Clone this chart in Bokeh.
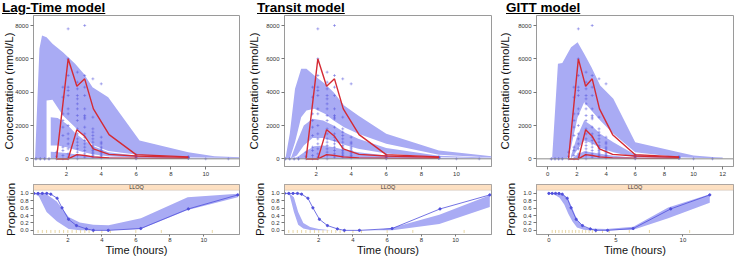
import math
from bokeh.plotting import figure
from bokeh.layouts import row, column
from bokeh.models import (Div, FixedTicker, PrintfTickFormatter, BoxAnnotation,
                          Label, Span, Range1d)
from bokeh.embed import file_html
from bokeh.resources import INLINE

# ---------------- data ----------------
model_titles = ["Lag-Time model", "Transit model", "GITT model"]

# observed concentrations (nmol/L) by nominal time (h)
obs_times = [0.25, 0.5, 0.75, 1.0, 1.43, 1.8, 2.1, 2.63, 3.05, 3.52, 4.0, 6.0, 9.0, 10.0, 11.3]
obs_conc = [
    [0, 0],
    [0, 0],
    [0, 0],
    [0, 0],
    [0, 150, 400],
    [0, 200, 500, 700, 1400, 1900, 2300, 2700, 3700, 4300],
    [0, 100, 300, 600, 900, 1200, 1500, 2000, 2700, 3000, 3800, 4100, 4300, 5000, 6000, 7800],
    [0, 200, 400, 600, 800, 1000, 1200, 1500, 1800, 2300, 2600, 3000, 3300, 3600, 3800, 4200, 4600, 5200],
    [100, 300, 500, 700, 900, 1100, 1300, 1500, 1900, 2400, 2500, 2600, 3000, 3800, 4300, 5000, 8000],
    [100, 200, 300, 400, 500, 600, 700, 800, 1000, 1200, 1400, 1600, 1800, 2500, 4800],
    [50, 100, 200, 300, 400, 500, 600, 700, 900, 1000, 1300, 4500],
    [0, 30, 60, 100, 150, 200, 250],
    [20, 40, 60, 80, 100, 120],
    [0],
    [0],
]

# observed percentiles (red lines)
obs_bin_t = [1.43, 2.1, 2.6, 3.05, 3.55, 4.45, 6.0, 9.0]
obs_p95 = [0, 6000, 4350, 4800, 3000, 1450, 250, 120]
obs_p50 = [0, 0, 1750, 1350, 600, 270, 170, 90]
obs_p05 = [0, 0, 250, 200, 120, 60, 40, 30]

# simulated confidence bands: Lag-Time model
lag_a_t = [0.2, 0.45, 0.6, 0.86, 0.86, 1.2, 1.8, 2.5, 3.0, 3.5, 4.4, 6.2, 9.0, 10.5, 11.95]
lag_a_hi = [0, 6600, 7400, 7300, 7300, 6900, 6400, 5700, 5100, 4300, 3700, 1100, 400, 150, 100]
lag_a_lo = [0, 0, 0, 0, 3500, 3550, 2600, 1900, 1350, 850, 470, 230, 90, 60, 50]
lag_b_t = [1.1, 1.5, 2.0, 2.5, 3.0, 3.5, 4.4, 6.2, 9.0, 11.95]
lag_b_hi = [2500, 2450, 2100, 1550, 1150, 780, 390, 170, 70, 40]
lag_b_lo = [800, 800, 700, 550, 400, 270, 150, 70, 30, 20]
lag_c_t = [1.1, 1.5, 2.0, 2.5, 3.0, 3.5, 4.4, 6.2, 9.0, 11.95]
lag_c_hi = [420, 400, 350, 280, 220, 160, 90, 40, 20, 10]
lag_c_lo = [0, 0, 0, 0, 0, 0, 0, 0, 0, 0]

# Transit model
tr_a_t = [0.25, 0.5, 0.8, 1.15, 1.45, 1.9, 2.5, 3.0, 3.6, 4.4, 6.0, 9.0, 12.0]
tr_a_hi = [0, 1500, 4200, 5400, 5400, 5000, 4500, 4000, 3200, 2600, 1500, 500, 150]
tr_a_lo = [0, 0, 1000, 2500, 2900, 3000, 2700, 2300, 1900, 1500, 900, 250, 80]
tr_b_t = [0.55, 0.9, 1.3, 1.8, 2.4, 3.0, 3.6, 4.4, 6.0, 9.0, 12.0]
tr_b_hi = [0, 1000, 2000, 2400, 2300, 2000, 1600, 1200, 650, 180, 60]
tr_b_lo = [0, 200, 800, 1250, 1250, 1050, 850, 600, 320, 90, 30]
tr_c_t = [0.65, 1.0, 1.4, 1.9, 2.4, 3.0, 3.6, 4.4, 6.0, 9.0, 12.0]
tr_c_hi = [0, 150, 450, 750, 800, 700, 550, 400, 200, 50, 20]
tr_c_lo = [0, 0, 0, 0, 0, 0, 0, 0, 0, 0, 0]

# GITT model
gi_a_t = [0.3, 0.7, 1.0, 1.35, 1.6, 2.05, 2.5, 3.0, 3.6, 4.5, 6.0, 9.0, 10.0, 11.5, 12.0]
gi_a_hi = [0, 5700, 5750, 6300, 6700, 7000, 6300, 5500, 4400, 3600, 1000, 400, 200, 100, 80]
gi_a_lo = [0, 0, 0, 0, 700, 2500, 3400, 2900, 2300, 1500, 400, 100, 60, 30, 20]
gi_b_t = [1.6, 2.0, 2.5, 3.0, 3.6, 4.5, 6.0, 9.0]
gi_b_hi = [200, 1300, 2300, 2000, 1500, 1000, 250, 80]
gi_b_lo = [0, 500, 1100, 950, 650, 400, 100, 40]
gi_c_t = [1.7, 2.0, 2.5, 3.0, 3.6, 4.5, 6.0, 9.0]
gi_c_hi = [0, 250, 450, 400, 300, 180, 60, 30]
gi_c_lo = [0, 0, 0, 0, 0, 0, 0, 0]

# proportion below LLOQ
obs_blq_t = [0.0, 0.25, 0.5, 0.76, 1.0, 1.37, 1.66, 2.04, 2.51, 3.09, 3.5, 4.38, 6.29, 9.09, 12.0]
obs_blq = [1.0, 1.0, 1.0, 1.0, 0.98, 0.87, 0.61, 0.3, 0.13, 0.04, 0.0, 0.0, 0.05, 0.58, 0.96]
rug_t = [0.25, 0.5, 0.75, 1.0, 1.25, 1.5, 1.75, 2.0, 2.25, 2.5, 2.75, 3.0, 3.25, 3.5, 4.0, 4.5, 6.0, 7.5, 10.5]

lag_blq_t = [0.0, 0.3, 0.75, 1.35, 2.05, 2.7, 3.5, 4.4, 6.3, 9.05, 12.0]
lag_blq_hi = [1.0, 1.0, 0.98, 0.78, 0.36, 0.21, 0.15, 0.14, 0.33, 0.9, 0.99]
lag_blq_lo = [1.0, 0.92, 0.5, 0.25, 0.04, 0.0, 0.0, 0.0, 0.04, 0.55, 0.9]
tr_blq_t = [0.1, 0.3, 0.55, 0.8, 1.1, 1.5, 2.0, 2.7, 4.4, 5.5, 6.3, 9.05, 12.0]
tr_blq_hi = [1.0, 1.0, 0.9, 0.5, 0.2, 0.09, 0.04, 0.0, 0.0, 0.02, 0.07, 0.42, 0.95]
tr_blq_lo = [1.0, 0.95, 0.5, 0.15, 0.05, 0.01, 0.0, 0.0, 0.0, 0.0, 0.0, 0.17, 0.63]
gi_blq_t = [0.0, 0.4, 0.8, 1.15, 1.45, 1.75, 2.1, 2.6, 3.0, 4.3, 6.3, 8.9, 12.0]
gi_blq_hi = [1.0, 1.0, 1.0, 0.96, 0.85, 0.6, 0.3, 0.1, 0.05, 0.04, 0.1, 0.62, 0.98]
gi_blq_lo = [1.0, 0.97, 0.88, 0.7, 0.45, 0.25, 0.08, 0.02, 0.0, 0.0, 0.02, 0.33, 0.75]

conc_ticks = [0, 2000, 4000, 6000, 8000]
prop_ticks = [0.0, 0.2, 0.4, 0.6, 0.8, 1.0]

# ---------------- style ----------------
BAND = "#a9abf4"
RED = "#d42a34"
PTS = "#5656dc"
FRAME = "#9a9a9a"
FONT = "Liberation Sans"
STRIP_LO = 1.086

panels = [
    dict(title=model_titles[0], width=245, tl=32, tr=6, bl=29, br=4, title_ml=2,
         top_x=(0.11, 11.94), top_ticks=[2, 4, 6, 8, 10], top_std=-3,
         bot_x=(-0.02, 12.1), bot_ticks=[2, 4, 6, 8, 10], bot_std=0,
         bands=[(lag_a_t, lag_a_lo, lag_a_hi), (lag_b_t, lag_b_lo, lag_b_hi), (lag_c_t, lag_c_lo, lag_c_hi)],
         blq=(lag_blq_t, lag_blq_lo, lag_blq_hi)),
    dict(title=model_titles[1], width=248, tl=38, tr=2, bl=37, br=1, title_ml=12,
         top_x=(0.2, 12.0), top_ticks=[2, 4, 6, 8, 10], top_std=3,
         bot_x=(0.0, 12.1), bot_ticks=[2, 4, 6, 8, 10], bot_std=2,
         bands=[(tr_a_t, tr_a_lo, tr_a_hi), (tr_b_t, tr_b_lo, tr_b_hi), (tr_c_t, tr_c_lo, tr_c_hi)],
         blq=(tr_blq_t, tr_blq_lo, tr_blq_hi)),
    dict(title=model_titles[2], width=250, tl=43, tr=2, bl=38, br=10, title_ml=13,
         top_x=(-0.77, 12.74), top_ticks=[0, 2, 4, 6, 8, 10, 12], top_std=4,
         bot_x=(-0.92, 13.77), bot_ticks=[0, 5, 10], bot_std=3,
         bands=[(gi_a_t, gi_a_lo, gi_a_hi), (gi_b_t, gi_b_lo, gi_b_hi), (gi_c_t, gi_c_lo, gi_c_hi)],
         blq=(gi_blq_t, gi_blq_lo, gi_blq_hi)),
]


def style(p):
    p.xgrid.visible = False
    p.ygrid.visible = False
    p.outline_line_color = FRAME
    p.outline_line_width = 1
    p.background_fill_color = "white"
    p.border_fill_color = "white"
    for ax in (p.xaxis[0], p.yaxis[0]):
        ax.major_tick_out = 3
        ax.major_tick_in = 0
        ax.minor_tick_line_color = None
        ax.axis_line_color = FRAME
        ax.major_tick_line_color = "#777777"
        ax.major_label_text_font = FONT
        ax.major_label_text_font_size = "6px"
        ax.major_label_text_color = "#333333"
        ax.major_label_standoff = 2
        ax.axis_label_text_font = FONT
        ax.axis_label_text_font_style = "normal"
        ax.axis_label_text_color = "#111111"


obs_px, obs_py = [], []
for t, cs in zip(obs_times, obs_conc):
    obs_px += [t] * len(cs)
    obs_py += cs

cols = []
for cfg in panels:
    title = Div(text="<b><u>%s</u></b>" % cfg["title"], width=cfg["width"] - cfg["title_ml"], height=14,
                margin=(0, 0, 0, cfg["title_ml"]),
                styles={"font-family": "'Liberation Sans', Arial, sans-serif", "font-size": "13.5px",
                        "line-height": "15px", "color": "#000000", "white-space": "nowrap",
                        "overflow": "visible"})

    # ---- concentration VPC ----
    p = figure(width=cfg["width"], height=167, output_backend="svg", toolbar_location=None,
               x_range=Range1d(*cfg["top_x"]), y_range=Range1d(-460, 8600),
               min_border_left=cfg["tl"], min_border_right=cfg["tr"],
               min_border_top=1, min_border_bottom=15)
    style(p)
    p.yaxis.axis_label = "Concentration (nmol/L)"
    p.yaxis.axis_label_text_font_size = "11.5px"
    p.yaxis.axis_label_standoff = cfg["top_std"]
    p.xaxis.ticker = FixedTicker(ticks=cfg["top_ticks"])
    p.yaxis.ticker = FixedTicker(ticks=conc_ticks)
    for bt, blo, bhi in cfg["bands"]:
        p.varea(x=bt, y1=blo, y2=bhi, fill_color=BAND, fill_alpha=1.0)
    p.add_layout(Span(location=0, dimension="width", line_color="#8c8c8c", line_width=1))
    p.scatter(obs_px, obs_py, marker="cross", size=3, line_color=PTS, line_width=0.7, line_alpha=0.65)
    for yy in (obs_p95, obs_p50, obs_p05):
        p.line(obs_bin_t, yy, line_color=RED, line_width=1.4)

    # ---- proportion BLQ ----
    q = figure(width=cfg["width"], height=77, output_backend="svg", toolbar_location=None,
               x_range=Range1d(*cfg["bot_x"]), y_range=Range1d(-0.112, 1.242),
               min_border_left=cfg["bl"], min_border_right=cfg["br"],
               min_border_top=3, min_border_bottom=22)
    style(q)
    q.yaxis.axis_label = "Proportion"
    q.yaxis.axis_label_text_font_size = "11.5px"
    q.yaxis.axis_label_standoff = cfg["bot_std"]
    q.xaxis.axis_label = "Time (hours)"
    q.xaxis.axis_label_text_font_size = "11px"
    q.xaxis.axis_label_standoff = -1
    q.xaxis.major_tick_out = 2
    q.xaxis.major_label_standoff = 1
    q.xaxis.ticker = FixedTicker(ticks=cfg["bot_ticks"])
    q.yaxis.ticker = FixedTicker(ticks=prop_ticks)
    q.yaxis.formatter = PrintfTickFormatter(format="%.1f")
    bt, blo, bhi = cfg["blq"]
    q.varea(x=bt, y1=blo, y2=bhi, fill_color=BAND, fill_alpha=1.0)
    q.scatter(rug_t, [-0.03] * len(rug_t), marker="dash", angle=math.pi / 2, size=3,
              line_color="#e2cc8c", line_width=0.8)
    q.line(obs_blq_t, obs_blq, line_color="#5050dc", line_width=0.8)
    q.scatter(obs_blq_t, obs_blq, marker="circle", size=2.2, fill_color="#5050dc", line_color="#5050dc")
    q.add_layout(BoxAnnotation(bottom=STRIP_LO, fill_color="#fde0c2", fill_alpha=1.0,
                               line_color="#8a8a8a", line_width=0.8))
    q.add_layout(Label(x=(cfg["bot_x"][0] + cfg["bot_x"][1]) / 2, y=(STRIP_LO + 1.242) / 2, text="LLOQ",
                       text_font=FONT, text_font_size="5.5px", text_align="center",
                       text_baseline="middle", text_color="#333333"))

    cols.append(column(title, p, q, spacing=0))

layout = row(*cols, spacing=0)
open("out.html", "w").write(file_html(layout, INLINE))
